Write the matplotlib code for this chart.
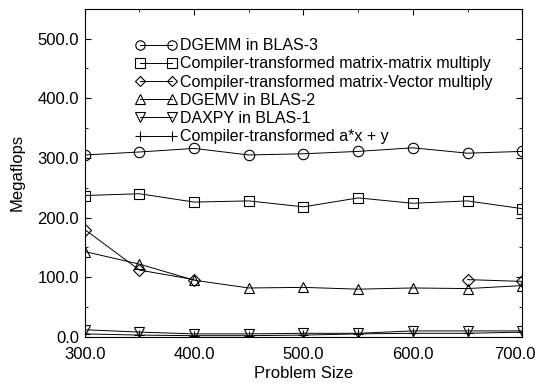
import numpy as np
import matplotlib
matplotlib.use("Agg")
import matplotlib.pyplot as plt
from matplotlib.ticker import MultipleLocator, FormatStrFormatter

plt.rcParams["font.family"] = ["Liberation Sans", "DejaVu Sans"]

sizes = [300, 350, 400, 450, 500, 550, 600, 650, 700]
dgemm = [305, 310, 316, 305, 307, 311, 317, 308, 311]
mm_comp = [237, 240, 226, 228, 218, 233, 224, 228, 215]
mv_comp = [180, 112, 96, np.nan, np.nan, np.nan, np.nan, 96, 93]
dgemv = [143, 122, 95, 82, 83, 80, 82, 81, 86]
daxpy = [12, 8, 5, 5, 6, 6, 10, 10, 10]
axpy_comp = [5, 3, 2, 2, 3, 5, 6, 6, 8]

xticks = [300, 400, 500, 600, 700]
xtick_labels = ["300.0", "400.0", "500.0", "600.0", "700.0"]

labels = ["DGEMM in BLAS-3",
          "Compiler-transformed matrix-matrix multiply",
          "Compiler-transformed matrix-Vector multiply",
          "DGEMV in BLAS-2",
          "DAXPY in BLAS-1",
          "Compiler-transformed a*x + y"]

fig = plt.figure(figsize=(5.4, 3.85), dpi=100)
ax = fig.add_axes([0.157, 0.125, 0.81, 0.852])

series = [(dgemm, "o"), (mm_comp, "s"), (mv_comp, "D"),
          (dgemv, "^"), (daxpy, "v"), (axpy_comp, "+")]
for (vals, mk), lab in zip(series, labels):
    ms = 6 if mk == "D" else 7.5
    ax.plot(sizes, vals, color="black", lw=0.7, marker=mk, ms=ms,
            mfc="none", mec="black", mew=0.8, label=lab)

ax.set_xlim(300, 700)
ax.set_ylim(0, 550)
# last x label drawn separately, nudged left so it stays inside the figure
ax.set_xticks(xticks, xtick_labels[:-1] + [""])
ax.xaxis.set_minor_locator(MultipleLocator(50))
ax.yaxis.set_major_locator(MultipleLocator(100))
ax.yaxis.set_minor_locator(MultipleLocator(50))
ax.yaxis.set_major_formatter(FormatStrFormatter("%.1f"))
ax.tick_params(which="both", direction="in", top=True, right=True, labelsize=12)
ax.tick_params(which="major", length=4)
ax.tick_params(which="minor", length=2)
ax.tick_params(axis="x", pad=7)
ax.tick_params(axis="y", pad=4)
ax.annotate(xtick_labels[-1], xy=(xticks[-1], 0), xycoords=("data", "axes fraction"),
            xytext=(-5, -7), textcoords="offset points", ha="center", va="top",
            fontsize=12)
ax.set_xlabel("Problem Size", fontsize=12, labelpad=3)
ax.set_ylabel("Megaflops", fontsize=12, labelpad=9)

ax.legend(loc="upper left", bbox_to_anchor=(0.1, 0.93), frameon=False,
          fontsize=11.5, numpoints=2, handlelength=2.6, handletextpad=0.2,
          labelspacing=0.2, borderaxespad=0, markerscale=0.9)

fig.savefig("out.png", dpi=100)
